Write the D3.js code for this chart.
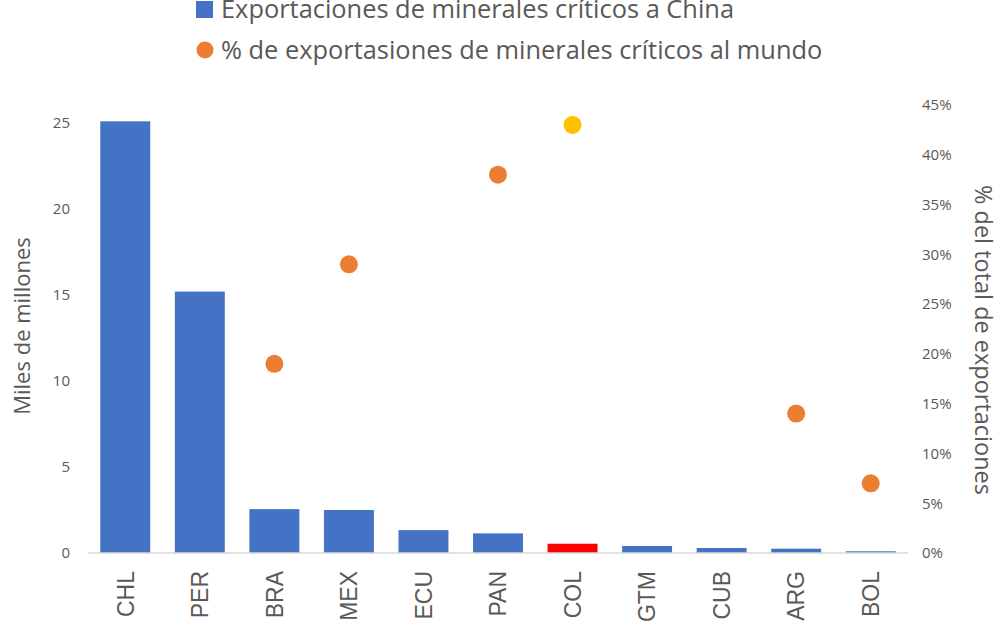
<!DOCTYPE html>
<html>
<head>
<meta charset="utf-8">
<script src="https://cdn.jsdelivr.net/npm/d3@7"></script>
<style>
  body { margin: 0; background: #fff; }
  text { font-family: "Open Sans", sans-serif; fill: #595959; }
</style>
</head>
<body>
<script>
// datos
var paises = ["CHL", "PER", "BRA", "MEX", "ECU", "PAN", "COL", "GTM", "CUB", "ARG", "BOL"];
var exportChina = [25.1, 15.2, 2.55, 2.5, 1.33, 1.14, 0.54, 0.41, 0.29, 0.25, 0.1];
var pctMundo = [null, null, 0.19, 0.29, null, 0.38, 0.43, null, null, 0.14, 0.07];
var ticksIzq = [0, 5, 10, 15, 20, 25];
var ticksDer = [0, 0.05, 0.1, 0.15, 0.2, 0.25, 0.3, 0.35, 0.4, 0.45];

var w = 1000, h = 634;
var plotLeft = 88, plotRight = 908, plotTop = 105, plotBottom = 553;

var svg = d3.select("body").append("svg")
  .attr("width", w)
  .attr("height", h);

var xScale = d3.scaleBand()
  .domain(paises)
  .range([plotLeft, plotRight])
  .paddingInner(0.33)
  .paddingOuter(0.165);

var yLeft = d3.scaleLinear().domain([0, 26.05]).range([plotBottom, plotTop]);
var yRight = d3.scaleLinear().domain([0, 0.45]).range([plotBottom, plotTop]);

// barras
svg.selectAll("rect.bar")
  .data(exportChina)
  .enter()
  .append("rect")
  .attr("class", "bar")
  .attr("x", function(d, i) { return xScale(paises[i]); })
  .attr("y", function(d) { return yLeft(d); })
  .attr("width", xScale.bandwidth())
  .attr("height", function(d) { return plotBottom - yLeft(d); })
  .attr("fill", function(d, i) { return paises[i] == "COL" ? "#FF0000" : "#4472C4"; });

// linea base
svg.append("line")
  .attr("x1", plotLeft).attr("x2", plotRight)
  .attr("y1", plotBottom).attr("y2", plotBottom)
  .attr("stroke", "#d9d9d9")
  .attr("stroke-width", 1.5);

// puntos (solo los paises con dato)
var puntos = paises.map(function(p, i) { return {pais: p, v: pctMundo[i]}; })
  .filter(function(d) { return d.v != null; });

svg.selectAll("circle.pt")
  .data(puntos)
  .enter()
  .append("circle")
  .attr("class", "pt")
  .attr("cx", function(d) { return xScale(d.pais) + xScale.bandwidth() / 2; })
  .attr("cy", function(d) { return yRight(d.v); })
  .attr("r", 9)
  .attr("fill", function(d) { return d.pais == "COL" ? "#FFC000" : "#ED7D31"; });

// eje izquierdo
var yAxisL = d3.axisLeft(yLeft).tickValues(ticksIzq).tickSize(0).tickPadding(0);
var gL = svg.append("g")
  .attr("transform", "translate(70,0)")
  .call(yAxisL);
gL.select(".domain").remove();
gL.selectAll("text").attr("font-size", "15px").style("font-family", "'Open Sans', sans-serif").attr("fill", "#595959");

// eje derecho
var yAxisR = d3.axisRight(yRight).tickValues(ticksDer).tickFormat(d3.format(".0%")).tickSize(0).tickPadding(0);
var gR = svg.append("g")
  .attr("transform", "translate(922,0)")
  .call(yAxisR);
gR.select(".domain").remove();
gR.selectAll("text").attr("font-size", "15px").style("font-family", "'Open Sans', sans-serif").attr("fill", "#595959");

// eje x
var xAxis = d3.axisBottom(xScale).tickSize(0).tickPadding(0);
var gX = svg.append("g")
  .attr("transform", "translate(0,571)")
  .call(xAxis);
gX.select(".domain").remove();
gX.selectAll("text")
  .attr("transform", "rotate(-90)")
  .attr("text-anchor", "end")
  .attr("x", 0)
  .attr("y", 0)
  .attr("dy", "0.36em")
  .attr("font-size", "23px")
  .style("font-family", "'Liberation Sans', Arial, sans-serif")
  .attr("fill", "#595959");

// titulos de ejes
svg.append("text")
  .attr("transform", "translate(30,326) rotate(-90)")
  .attr("text-anchor", "middle")
  .attr("font-size", "22px")
  .text("Miles de millones");

svg.append("text")
  .attr("transform", "translate(975,340) rotate(90)")
  .attr("text-anchor", "middle")
  .attr("font-size", "23.5px")
  .text("% del total de exportaciones");

// leyenda
svg.append("rect")
  .attr("x", 196).attr("y", 1)
  .attr("width", 17).attr("height", 17)
  .attr("fill", "#4472C4");
svg.append("text")
  .attr("x", 221).attr("y", 18)
  .attr("font-size", "25.4px")
  .text("Exportaciones de minerales críticos a China");

svg.append("circle")
  .attr("cx", 205).attr("cy", 50)
  .attr("r", 8.5)
  .attr("fill", "#ED7D31");
svg.append("text")
  .attr("x", 221).attr("y", 59)
  .attr("font-size", "25.4px")
  .text("% de exportasiones de minerales críticos al mundo");
</script>
</body>
</html>
